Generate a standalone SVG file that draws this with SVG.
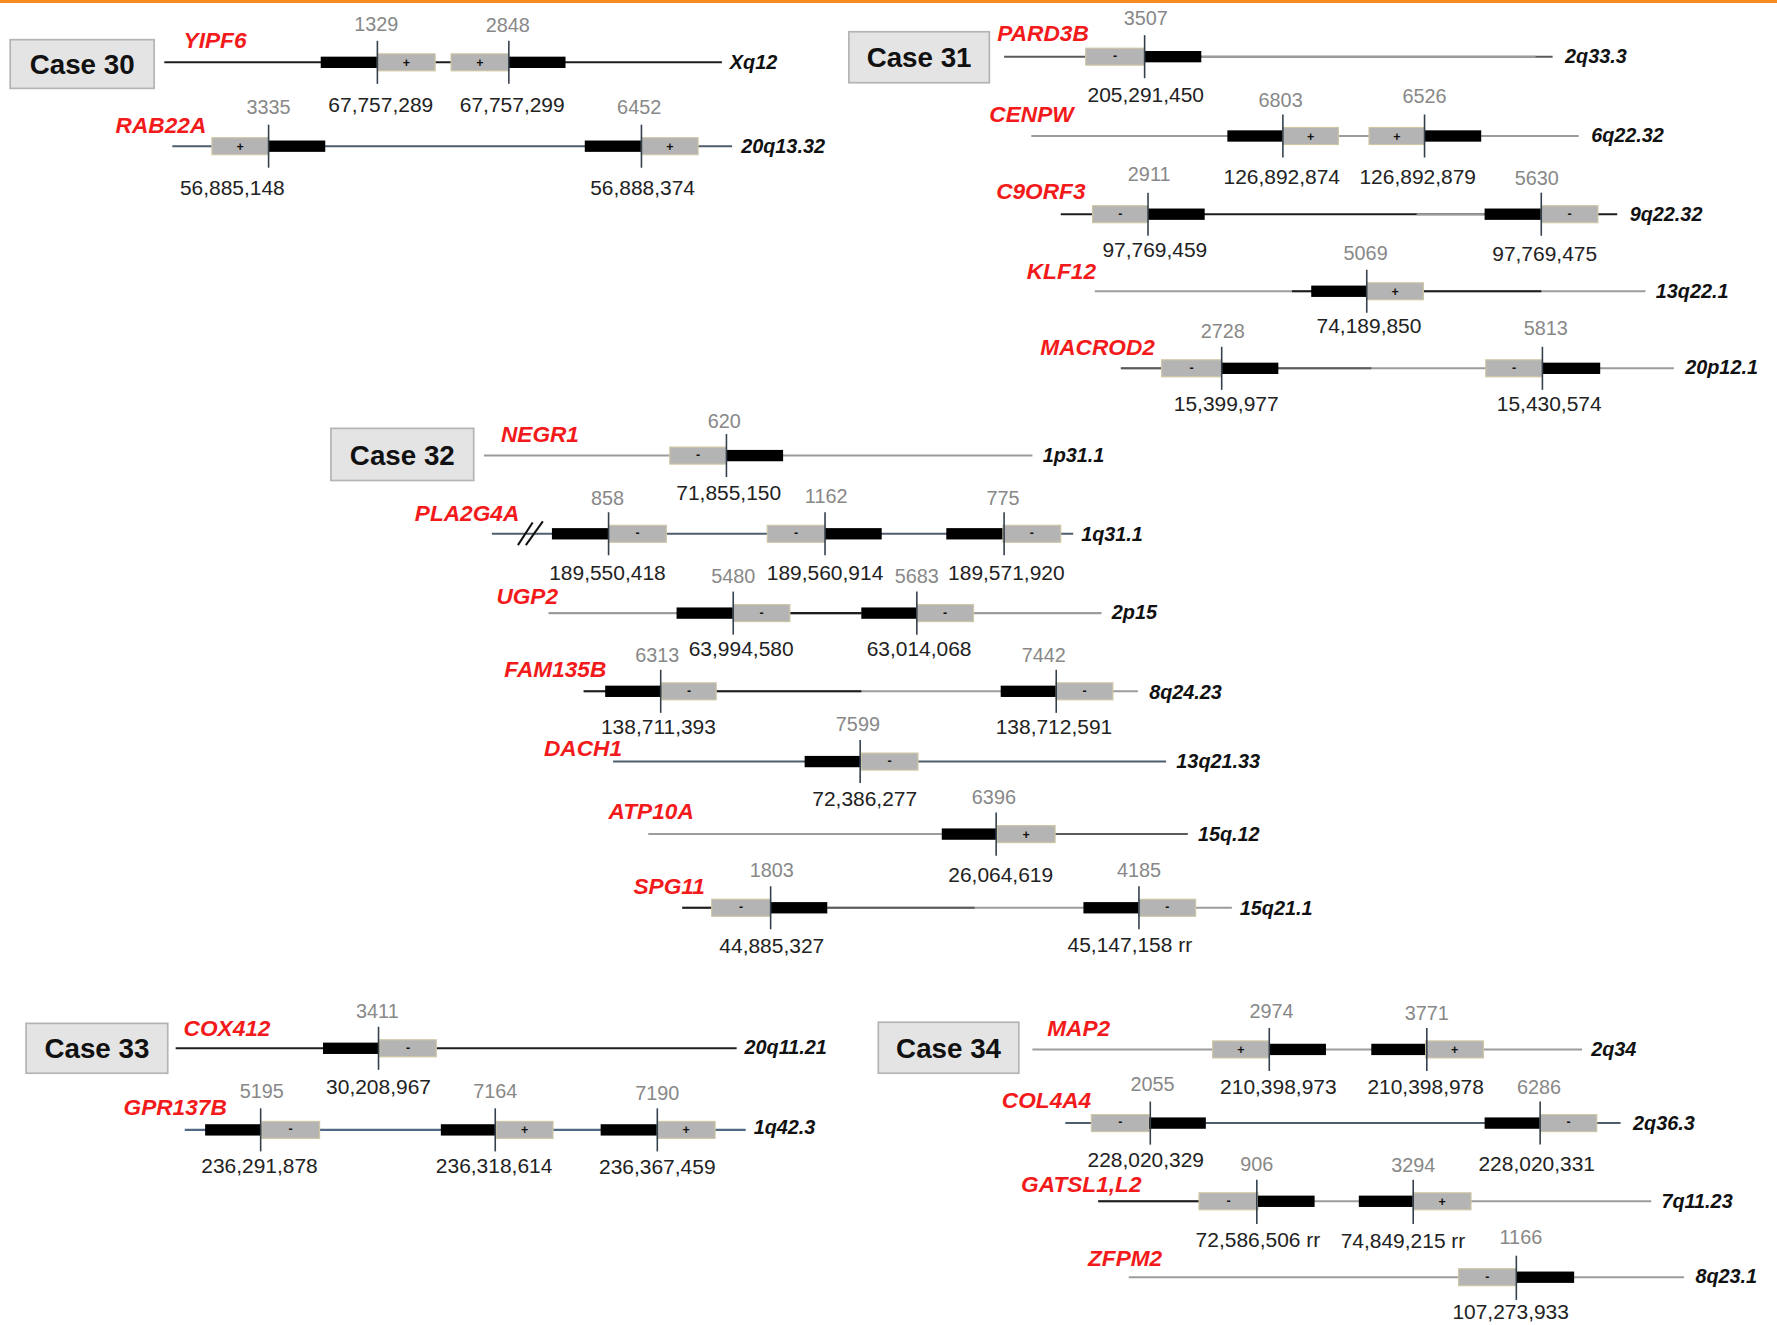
<svg xmlns="http://www.w3.org/2000/svg" width="1777" height="1325" viewBox="0 0 1777 1325">
<style>
.ln{fill:none;stroke-width:1.8}
.k{stroke:#1e1e1e}.g{stroke:#9c9c9c}.s{stroke:#4f5e6d}.d{stroke:#5a5a5a}
.bb{fill:#000}
.gb{fill:#b4b4b4;stroke:#cfc6a4;stroke-width:1}
.tk{stroke:#34404c;stroke-width:1.4}
.gn{font-family:"Liberation Sans",Arial,sans-serif;font-style:italic;font-weight:bold;font-size:20px;fill:#f21a1a}
.ch{font-family:"Liberation Sans",Arial,sans-serif;font-style:italic;font-weight:bold;font-size:17.5px;fill:#111}
.gy{font-family:"Liberation Sans",Arial,sans-serif;font-size:17.5px;fill:#888;text-anchor:middle}
.nm{font-family:"Liberation Sans",Arial,sans-serif;font-size:18.5px;fill:#222;text-anchor:middle}
.sg{font-family:"Liberation Sans",Arial,sans-serif;font-weight:bold;font-size:11px;fill:#111;text-anchor:middle}
.cb{fill:#e4e4e4;stroke:#b4b4b4;stroke-width:1.5}
.ct{font-family:"Liberation Sans",Arial,sans-serif;font-weight:bold;font-size:24.5px;fill:#111;text-anchor:middle}
</style>
<rect x="0" y="0" width="1777" height="1325" fill="#fff"/>
<rect x="0" y="0" width="1777" height="3" fill="#f68b1f"/>
<g transform="scale(1.13329)">

<g id="case30">
<rect class="cb" x="9" y="35" width="127" height="43"/>
<text class="ct" x="72.5" y="65">Case 30</text>
</g>
<g id="YIPF6">
<text class="gn" x="162" y="42">YIPF6</text>
<line class="ln k" x1="145" y1="55" x2="637" y2="55"/>
<rect class="bb" x="283" y="50" width="50" height="10"/>
<rect class="gb" x="333" y="47.5" width="51" height="15"/><text class="sg" x="358.5" y="59">+</text>
<rect class="gb" x="398" y="47.5" width="51" height="15"/><text class="sg" x="423.5" y="59">+</text>
<rect class="bb" x="449" y="50" width="50" height="10"/>
<line class="tk" x1="333" y1="36" x2="333" y2="74"/><line class="tk" x1="449" y1="36" x2="449" y2="74"/>
<text class="gy" x="332" y="27">1329</text><text class="gy" x="448" y="28">2848</text>
<text class="nm" x="336" y="99">67,757,289</text><text class="nm" x="452" y="99">67,757,299</text>
<text class="ch" x="644" y="61">Xq12</text>
</g>
<g id="RAB22A">
<text class="gn" x="102" y="117">RAB22A</text>
<line class="ln s" x1="152" y1="129" x2="646" y2="129"/>
<rect class="gb" x="187" y="121.5" width="50" height="15"/><text class="sg" x="212" y="133">+</text>
<rect class="bb" x="237" y="124" width="50" height="10"/>
<rect class="bb" x="516" y="124" width="50" height="10"/>
<rect class="gb" x="566" y="121.5" width="50" height="15"/><text class="sg" x="591" y="133">+</text>
<line class="tk" x1="237" y1="110" x2="237" y2="148"/><line class="tk" x1="566" y1="110" x2="566" y2="148"/>
<text class="gy" x="237" y="101">3335</text><text class="gy" x="564" y="101">6452</text>
<text class="nm" x="205" y="172">56,885,148</text><text class="nm" x="567" y="172">56,888,374</text>
<text class="ch" x="654" y="135">20q13.32</text>
</g>

<g id="case31">
<rect class="cb" x="749" y="28" width="124" height="45"/>
<text class="ct" x="811" y="59.5">Case 31</text>
</g>
<g id="PARD3B">
<text class="gn" x="880" y="36">PARD3B</text>
<line class="ln d" x1="886" y1="50" x2="1370" y2="50"/>
<line class="ln g" x1="1060" y1="50" x2="1355" y2="50"/>
<rect class="gb" x="958" y="42.5" width="52" height="15"/><text class="sg" x="984" y="53">-</text>
<rect class="bb" x="1010" y="45" width="50" height="10"/>
<line class="tk" x1="1010" y1="31" x2="1010" y2="69"/>
<text class="gy" x="1011" y="22">3507</text>
<text class="nm" x="1011" y="90">205,291,450</text>
<text class="ch" x="1381" y="56">2q33.3</text>
</g>
<g id="CENPW">
<text class="gn" x="873" y="108">CENPW</text>
<line class="ln g" x1="910" y1="120" x2="1393" y2="120"/>
<rect class="bb" x="1083" y="115" width="49" height="10"/>
<rect class="gb" x="1132" y="112.5" width="49" height="15"/><text class="sg" x="1156.5" y="124">+</text>
<rect class="gb" x="1208" y="112.5" width="49" height="15"/><text class="sg" x="1232.5" y="124">+</text>
<rect class="bb" x="1257" y="115" width="50" height="10"/>
<line class="tk" x1="1132" y1="101" x2="1132" y2="139"/><line class="tk" x1="1257" y1="101" x2="1257" y2="139"/>
<text class="gy" x="1130" y="94">6803</text><text class="gy" x="1257" y="91">6526</text>
<text class="nm" x="1131" y="162">126,892,874</text><text class="nm" x="1251" y="162">126,892,879</text>
<text class="ch" x="1404" y="125">6q22.32</text>
</g>
<g id="C9ORF3">
<text class="gn" x="879" y="176">C9ORF3</text>
<line class="ln k" x1="936" y1="189" x2="1427" y2="189"/>
<line class="ln g" x1="1250" y1="189" x2="1310" y2="189"/>
<rect class="gb" x="964" y="181.5" width="49" height="15"/><text class="sg" x="988.5" y="192">-</text>
<rect class="bb" x="1013" y="184" width="50" height="10"/>
<rect class="bb" x="1310" y="184" width="50" height="10"/>
<rect class="gb" x="1360" y="181.5" width="50" height="15"/><text class="sg" x="1385" y="192">-</text>
<line class="tk" x1="1013" y1="170" x2="1013" y2="208"/><line class="tk" x1="1360" y1="170" x2="1360" y2="208"/>
<text class="gy" x="1014" y="160">2911</text><text class="gy" x="1356" y="163">5630</text>
<text class="nm" x="1019" y="227">97,769,459</text><text class="nm" x="1363" y="230">97,769,475</text>
<text class="ch" x="1438" y="195">9q22.32</text>
</g>
<g id="KLF12">
<text class="gn" x="906" y="246">KLF12</text>
<line class="ln g" x1="966" y1="257" x2="1452" y2="257"/>
<line class="ln k" x1="1140" y1="257" x2="1360" y2="257"/>
<rect class="bb" x="1157" y="252" width="49" height="10"/>
<rect class="gb" x="1206" y="249.5" width="50" height="15"/><text class="sg" x="1231" y="261">+</text>
<line class="tk" x1="1206" y1="238" x2="1206" y2="276"/>
<text class="gy" x="1205" y="229">5069</text>
<text class="nm" x="1208" y="294">74,189,850</text>
<text class="ch" x="1461" y="263">13q22.1</text>
</g>
<g id="MACROD2">
<text class="gn" x="918" y="313">MACROD2</text>
<line class="ln g" x1="989" y1="325" x2="1477" y2="325"/>
<line class="ln d" x1="989" y1="325" x2="1210" y2="325"/>
<rect class="gb" x="1025" y="317.5" width="53" height="15"/><text class="sg" x="1051.5" y="328">-</text>
<rect class="bb" x="1078" y="320" width="50" height="10"/>
<rect class="gb" x="1311" y="317.5" width="50" height="15"/><text class="sg" x="1336" y="328">-</text>
<rect class="bb" x="1361" y="320" width="51" height="10"/>
<line class="tk" x1="1078" y1="306" x2="1078" y2="344"/><line class="tk" x1="1361" y1="306" x2="1361" y2="344"/>
<text class="gy" x="1079" y="298">2728</text><text class="gy" x="1364" y="296">5813</text>
<text class="nm" x="1082" y="363">15,399,977</text><text class="nm" x="1367" y="363">15,430,574</text>
<text class="ch" x="1487" y="330">20p12.1</text>
</g>

<g id="case32">
<rect class="cb" x="292" y="378" width="126" height="46"/>
<text class="ct" x="355" y="410">Case 32</text>
</g>
<g id="NEGR1">
<text class="gn" x="442" y="390">NEGR1</text>
<line class="ln g" x1="427" y1="402" x2="911" y2="402"/>
<rect class="gb" x="591" y="394.5" width="50" height="15"/><text class="sg" x="616" y="405">-</text>
<rect class="bb" x="641" y="397" width="50" height="10"/>
<line class="tk" x1="641" y1="383" x2="641" y2="421"/>
<text class="gy" x="639" y="378">620</text>
<text class="nm" x="643" y="441">71,855,150</text>
<text class="ch" x="920" y="408">1p31.1</text>
</g>
<g id="PLA2G4A">
<text class="gn" x="366" y="460">PLA2G4A</text>
<line class="ln s" x1="434" y1="471" x2="947" y2="471"/>
<line stroke="#111" stroke-width="1.8" x1="457" y1="481" x2="470" y2="461"/>
<line stroke="#111" stroke-width="1.8" x1="464" y1="481" x2="479" y2="460"/>
<rect class="bb" x="487" y="466" width="50" height="10"/>
<rect class="gb" x="537" y="463.5" width="51" height="15"/><text class="sg" x="562.5" y="474">-</text>
<rect class="gb" x="677" y="463.5" width="51" height="15"/><text class="sg" x="702.5" y="474">-</text>
<rect class="bb" x="728" y="466" width="50" height="10"/>
<rect class="bb" x="835" y="466" width="50" height="10"/>
<rect class="gb" x="885" y="463.5" width="51" height="15"/><text class="sg" x="910.5" y="474">-</text>
<line class="tk" x1="537" y1="452" x2="537" y2="490"/><line class="tk" x1="728" y1="452" x2="728" y2="490"/><line class="tk" x1="886" y1="452" x2="886" y2="490"/>
<text class="gy" x="536" y="446">858</text><text class="gy" x="729" y="444">1162</text><text class="gy" x="885" y="446">775</text>
<text class="nm" x="536" y="512">189,550,418</text><text class="nm" x="728" y="512">189,560,914</text><text class="nm" x="888" y="512">189,571,920</text>
<text class="ch" x="954" y="477">1q31.1</text>
</g>
<g id="UGP2">
<text class="gn" x="438" y="533">UGP2</text>
<line class="ln g" x1="484" y1="541" x2="972" y2="541"/>
<line class="ln k" x1="697" y1="541" x2="760" y2="541"/>
<rect class="bb" x="597" y="536" width="50" height="10"/>
<rect class="gb" x="647" y="533.5" width="50" height="15"/><text class="sg" x="672" y="544">-</text>
<rect class="bb" x="760" y="536" width="49" height="10"/>
<rect class="gb" x="809" y="533.5" width="50" height="15"/><text class="sg" x="834" y="544">-</text>
<line class="tk" x1="647" y1="522" x2="647" y2="560"/><line class="tk" x1="809" y1="522" x2="809" y2="560"/>
<text class="gy" x="647" y="514">5480</text><text class="gy" x="809" y="514">5683</text>
<text class="nm" x="654" y="579">63,994,580</text><text class="nm" x="811" y="579">63,014,068</text>
<text class="ch" x="981" y="546">2p15</text>
</g>
<g id="FAM135B">
<text class="gn" x="445" y="597">FAM135B</text>
<line class="ln g" x1="515" y1="610" x2="1004" y2="610"/>
<line class="ln k" x1="515" y1="610" x2="760" y2="610"/>
<rect class="bb" x="534" y="605" width="50" height="10"/>
<rect class="gb" x="584" y="602.5" width="48" height="15"/><text class="sg" x="608" y="613">-</text>
<rect class="bb" x="883" y="605" width="49" height="10"/>
<rect class="gb" x="932" y="602.5" width="50" height="15"/><text class="sg" x="957" y="613">-</text>
<line class="tk" x1="583" y1="591" x2="583" y2="629"/><line class="tk" x1="932" y1="591" x2="932" y2="629"/>
<text class="gy" x="580" y="584">6313</text><text class="gy" x="921" y="584">7442</text>
<text class="nm" x="581" y="648">138,711,393</text><text class="nm" x="930" y="648">138,712,591</text>
<text class="ch" x="1014" y="617">8q24.23</text>
</g>
<g id="DACH1">
<text class="gn" x="480" y="667">DACH1</text>
<line class="ln s" x1="541" y1="672" x2="1029" y2="672"/>
<rect class="bb" x="710" y="667" width="50" height="10"/>
<rect class="gb" x="760" y="664.5" width="50" height="15"/><text class="sg" x="785" y="675">-</text>
<line class="tk" x1="759" y1="653" x2="759" y2="691"/>
<text class="gy" x="757" y="645">7599</text>
<text class="nm" x="763" y="711">72,386,277</text>
<text class="ch" x="1038" y="678">13q21.33</text>
</g>
<g id="ATP10A">
<text class="gn" x="537" y="723">ATP10A</text>
<line class="ln g" x1="572" y1="736" x2="1048" y2="736"/>
<line class="ln d" x1="931" y1="736" x2="1048" y2="736"/>
<rect class="bb" x="831" y="731" width="49" height="10"/>
<rect class="gb" x="880" y="728.5" width="51" height="15"/><text class="sg" x="905.5" y="740">+</text>
<line class="tk" x1="879" y1="717" x2="879" y2="755"/>
<text class="gy" x="877" y="709">6396</text>
<text class="nm" x="883" y="778">26,064,619</text>
<text class="ch" x="1057" y="742">15q.12</text>
</g>
<g id="SPG11">
<text class="gn" x="559" y="789">SPG11</text>
<line class="ln g" x1="602" y1="801" x2="1087" y2="801"/>
<line class="ln k" x1="602" y1="801" x2="628" y2="801"/>
<line class="ln d" x1="730" y1="801" x2="860" y2="801"/>
<rect class="gb" x="628" y="793.5" width="52" height="15"/><text class="sg" x="654" y="804">-</text>
<rect class="bb" x="680" y="796" width="50" height="10"/>
<rect class="bb" x="956" y="796" width="49" height="10"/>
<rect class="gb" x="1005" y="793.5" width="50" height="15"/><text class="sg" x="1030" y="804">-</text>
<line class="tk" x1="680" y1="782" x2="680" y2="820"/><line class="tk" x1="1005" y1="782" x2="1005" y2="820"/>
<text class="gy" x="681" y="774">1803</text><text class="gy" x="1005" y="774">4185</text>
<text class="nm" x="681" y="841">44,885,327</text><text class="nm" x="997" y="840">45,147,158 rr</text>
<text class="ch" x="1094" y="807">15q21.1</text>
</g>

<g id="case33">
<rect class="cb" x="23" y="903" width="125" height="44"/>
<text class="ct" x="85.5" y="934">Case 33</text>
</g>
<g id="COX412">
<text class="gn" x="162" y="914">COX412</text>
<line class="ln k" x1="155" y1="925" x2="650" y2="925"/>
<rect class="bb" x="285" y="920" width="50" height="10"/>
<rect class="gb" x="335" y="917.5" width="50" height="15"/><text class="sg" x="360" y="928">-</text>
<line class="tk" x1="334" y1="906" x2="334" y2="944"/>
<text class="gy" x="333" y="898">3411</text>
<text class="nm" x="334" y="965">30,208,967</text>
<text class="ch" x="657" y="930">20q11.21</text>
</g>
<g id="GPR137B">
<text class="gn" x="109" y="984">GPR137B</text>
<line class="ln" stroke="#4f6a82" x1="163" y1="997" x2="658" y2="997"/>
<rect class="bb" x="181" y="992" width="50" height="10"/>
<rect class="gb" x="231" y="989.5" width="51" height="15"/><text class="sg" x="256.5" y="1000">-</text>
<rect class="bb" x="389" y="992" width="49" height="10"/>
<rect class="gb" x="438" y="989.5" width="50" height="15"/><text class="sg" x="463" y="1001">+</text>
<rect class="bb" x="530" y="992" width="50" height="10"/>
<rect class="gb" x="580" y="989.5" width="51" height="15"/><text class="sg" x="605.5" y="1001">+</text>
<line class="tk" x1="230" y1="978" x2="230" y2="1016"/><line class="tk" x1="437" y1="978" x2="437" y2="1016"/><line class="tk" x1="580" y1="978" x2="580" y2="1016"/>
<text class="gy" x="231" y="969">5195</text><text class="gy" x="437" y="969">7164</text><text class="gy" x="580" y="971">7190</text>
<text class="nm" x="229" y="1035">236,291,878</text><text class="nm" x="436" y="1035">236,318,614</text><text class="nm" x="580" y="1036">236,367,459</text>
<text class="ch" x="665" y="1001">1q42.3</text>
</g>

<g id="case34">
<rect class="cb" x="775" y="902" width="124" height="45"/>
<text class="ct" x="837" y="933.5">Case 34</text>
</g>
<g id="MAP2">
<text class="gn" x="924" y="914">MAP2</text>
<line class="ln g" x1="911" y1="926" x2="1396" y2="926"/>
<rect class="gb" x="1070" y="918.5" width="50" height="15"/><text class="sg" x="1095" y="930">+</text>
<rect class="bb" x="1120" y="921" width="50" height="10"/>
<rect class="bb" x="1210" y="921" width="48" height="10"/>
<rect class="gb" x="1258" y="918.5" width="51" height="15"/><text class="sg" x="1283.5" y="930">+</text>
<line class="tk" x1="1120" y1="907" x2="1120" y2="945"/><line class="tk" x1="1259" y1="907" x2="1259" y2="945"/>
<text class="gy" x="1122" y="898">2974</text><text class="gy" x="1259" y="900">3771</text>
<text class="nm" x="1128" y="965">210,398,973</text><text class="nm" x="1258" y="965">210,398,978</text>
<text class="ch" x="1404" y="932">2q34</text>
</g>
<g id="COL4A4">
<text class="gn" x="884" y="978">COL4A4</text>
<line class="ln s" x1="940" y1="991" x2="1430" y2="991"/>
<rect class="gb" x="963" y="983.5" width="51" height="15"/><text class="sg" x="988.5" y="994">-</text>
<rect class="bb" x="1014" y="986" width="50" height="10"/>
<rect class="bb" x="1310" y="986" width="49" height="10"/>
<rect class="gb" x="1359" y="983.5" width="50" height="15"/><text class="sg" x="1384" y="994">-</text>
<line class="tk" x1="1015" y1="972" x2="1015" y2="1010"/><line class="tk" x1="1359" y1="972" x2="1359" y2="1010"/>
<text class="gy" x="1017" y="963">2055</text><text class="gy" x="1358" y="965">6286</text>
<text class="nm" x="1011" y="1030">228,020,329</text><text class="nm" x="1356" y="1033">228,020,331</text>
<text class="ch" x="1441" y="997">2q36.3</text>
</g>
<g id="GATSL1L2">
<text class="gn" x="901" y="1052">GATSL1,L2</text>
<line class="ln g" x1="969" y1="1060" x2="1457" y2="1060"/>
<line class="ln k" x1="969" y1="1060" x2="1058" y2="1060"/>
<rect class="gb" x="1058" y="1052.5" width="52" height="15"/><text class="sg" x="1084" y="1063">-</text>
<rect class="bb" x="1110" y="1055" width="50" height="10"/>
<rect class="bb" x="1199" y="1055" width="48" height="10"/>
<rect class="gb" x="1247" y="1052.5" width="51" height="15"/><text class="sg" x="1272.5" y="1064">+</text>
<line class="tk" x1="1109" y1="1041" x2="1109" y2="1080"/><line class="tk" x1="1247" y1="1041" x2="1247" y2="1080"/>
<text class="gy" x="1109" y="1033">906</text><text class="gy" x="1247" y="1034">3294</text>
<text class="nm" x="1110" y="1100">72,586,506 rr</text><text class="nm" x="1238" y="1101">74,849,215 rr</text>
<text class="ch" x="1466" y="1066">7q11.23</text>
</g>
<g id="ZFPM2">
<text class="gn" x="960" y="1117">ZFPM2</text>
<line class="ln g" x1="996" y1="1127" x2="1486" y2="1127"/>
<rect class="gb" x="1287" y="1119.5" width="51" height="15"/><text class="sg" x="1312.5" y="1130">-</text>
<rect class="bb" x="1338" y="1122" width="51" height="10"/>
<line class="tk" x1="1338" y1="1108" x2="1338" y2="1147"/>
<text class="gy" x="1342" y="1098">1166</text>
<text class="nm" x="1333" y="1164">107,273,933</text>
<text class="ch" x="1496" y="1132">8q23.1</text>
</g>

</g>
</svg>
